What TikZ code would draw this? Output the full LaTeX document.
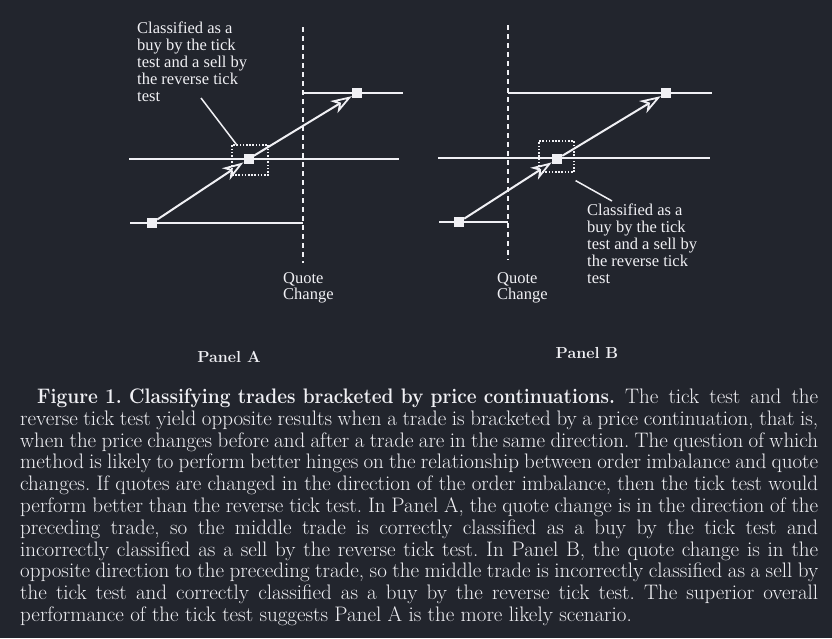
\documentclass[tikz,border=0pt]{standalone}
\usepackage{fontspec}
\usepackage{graphicx}
\newfontfamily\lab{Liberation Serif}
\usetikzlibrary{arrows.meta,calc}
\definecolor{bgc}{RGB}{34,37,45}
\definecolor{fg}{RGB}{240,240,244}
\begin{document}
\begin{tikzpicture}[x=1pt,y=-1pt,
  ln/.style={draw=fg, line width=2pt},
  hl/.style={draw=fg, line width=1.6pt},
  dl/.style={draw=fg, line width=1.6pt, dash pattern=on 5pt off 4pt},
  sq/.style={fill=fg, minimum size=10pt, inner sep=0pt, draw=none},
  dbox/.style={draw=fg, line width=1.2pt, dash pattern=on 1.6pt off 1.6pt, inner sep=0pt},
  arr/.style={ln, -{Stealth[open, length=21pt, width=14pt, inset=6pt, line width=1.8pt]}},
  lbl/.style={text=fg, font=\lab\fontsize{16.5}{16.8}\selectfont, align=left, inner sep=0pt, anchor=north west},
  pnl/.style={text=fg, font=\bfseries\fontsize{16}{16}\selectfont, anchor=base, inner sep=0pt},
]
\fill[bgc] (0,0) rectangle (832,638);
\useasboundingbox (0,0) rectangle (832,638);

% ---------- Panel A ----------
\node[sq] (a1) at (152,223) {};
\node[sq] (a2) at (248.5,159) {};
\node[sq] (a3) at (357,93) {};
\node[dbox, minimum width=36pt, minimum height=30pt] (boxA) at (250,160) {};
\coordinate (dA1) at (303,27);
\coordinate (dA2) at (303,263);
\draw[dl] (dA1) -- (dA2);
\coordinate (tA1) at (303,93);  \coordinate (tA2) at (403,93);
\coordinate (mA1) at (129,159); \coordinate (mA2) at (399,159);
\coordinate (bA1) at (130,223); \coordinate (bA2) at (303,223);
\draw[hl] (tA1) -- (tA2);
\draw[hl] (mA1) -- (mA2);
\draw[hl] (bA1) -- (bA2);
\draw[arr] (a1) -- (a2);
\draw[arr] (a2) -- (a3);
\coordinate (pA) at (201,98);
\draw[ln, line width=1.5pt] (pA) -- ($(boxA.north west)+(5,0)$);
\node[lbl] (txtA) at (137,22) {Classified as a\\buy by the tick\\test and a sell by\\the reverse tick\\test};
\node[lbl] (qA) at (283,272) {Quote\\Change};
\node[pnl] (pnlA) at (229,362) {Panel A};

% ---------- Panel B ----------
\node[sq] (b1) at (459,222) {};
\node[sq] (b2) at (557,159) {};
\node[sq] (b3) at (666,93) {};
\node[dbox, minimum width=35pt, minimum height=31pt] (boxB) at (556.5,156.5) {};
\coordinate (dB1) at (508,25);
\coordinate (dB2) at (508,260);
\draw[dl] (dB1) -- (dB2);
\coordinate (tB1) at (508,93);  \coordinate (tB2) at (712,93);
\coordinate (mB1) at (438,158); \coordinate (mB2) at (710,158);
\coordinate (bB1) at (439,222); \coordinate (bB2) at (508,222);
\draw[hl] (tB1) -- (tB2);
\draw[hl] (mB1) -- (mB2);
\draw[hl] (bB1) -- (bB2);
\draw[arr] (b1) -- (b2);
\draw[arr] (b2) -- (b3);
\coordinate (pB) at (612,201);
\draw[ln, line width=1.5pt] ($(boxB.south east)+(1,8)$) -- (pB);
\node[lbl] (txtB) at (587,204) {Classified as a\\buy by the tick\\test and a sell by\\the reverse tick\\test};
\node[lbl] (qB) at (497,272) {Quote\\Change};
\node[pnl] (pnlB) at (587,358) {Panel B};

% ---------- Caption ----------
\node[text=fg, anchor=north west, inner sep=0pt, text width=798pt, align=justify,
      font=\fontsize{21}{21.8}\selectfont] (cap) at (20,388.5)
{\frenchspacing\hyphenpenalty=10000\emergencystretch=20pt\hspace*{17pt}\scalebox{0.91}[1]{\textbf{Figure 1. Classifying trades bracketed by price continuations.}} The tick test and the\linebreak
reverse tick test yield opposite results when a trade is bracketed by a price continuation, that is,\linebreak
when the price changes before and after a trade are in the same direction. The question of which\linebreak
method is likely to perform better hinges on the relationship between order imbalance and quote\linebreak
changes. If quotes are changed in the direction of the order imbalance, then the tick test would\linebreak
perform better than the reverse tick test. In Panel A, the quote change is in the direction of the\linebreak
preceding trade, so the middle trade is correctly classified as a buy by the tick test and\linebreak
incorrectly classified as a sell by the reverse tick test. In Panel B, the quote change is in the\linebreak
opposite direction to the preceding trade, so the middle trade is incorrectly classified as a sell by\linebreak
the tick test and correctly classified as a buy by the reverse tick test. The superior overall\linebreak
performance of the tick test suggests Panel A is the more likely scenario.};
\end{tikzpicture}
\end{document}
